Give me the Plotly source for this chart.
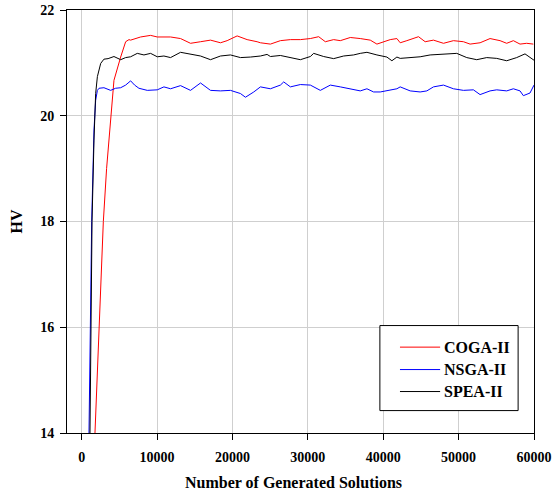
import plotly.graph_objects as go

# Hypervolume traces per algorithm (number of generated solutions vs HV)
coga_x = [1760, 2300, 2870, 3300, 3650, 4280, 5170, 5830, 6270, 6490, 7815, 9140, 10026,
          11788, 13113, 14437, 15762, 17086, 18411, 19294, 20619, 21943, 23268, 23710,
          25034, 26359, 27684, 29008, 30332, 31437, 32320, 33422, 34306, 35631, 36955,
          38280, 39163, 40046, 40929, 41812, 42250, 43133, 44680, 45563, 46666, 47991,
          49315, 50640, 51522, 52847, 54171, 55496, 56379, 57262, 58145, 59028, 59911]
coga_y = [14.0, 16.0, 18.0, 19.0, 19.55, 20.67, 21.11, 21.40, 21.44, 21.43, 21.49, 21.52, 21.49,
          21.49, 21.46, 21.37, 21.40, 21.43, 21.38, 21.42, 21.51, 21.44, 21.40, 21.38,
          21.355, 21.42, 21.44, 21.44, 21.46, 21.495, 21.40, 21.44, 21.42, 21.48, 21.46,
          21.43, 21.355, 21.40, 21.44, 21.46, 21.38, 21.42, 21.495, 21.40, 21.43, 21.37,
          21.42, 21.40, 21.355, 21.38, 21.46, 21.42, 21.37, 21.42, 21.355, 21.37, 21.355]

nsga_x = [967, 1150, 1325, 1630, 1850, 2080, 2300, 2950, 3840, 4500, 5170, 5830, 6490, 7020,
          7590, 8700, 10026, 10905, 11788, 13113, 14437, 15762, 17086, 18411, 19736, 21060,
          21722, 22826, 23710, 25034, 26359, 26800, 27684, 29008, 30332, 31657, 32982,
          34306, 35631, 36955, 37838, 38721, 39604, 40487, 41812, 42250, 43575, 44900,
          45783, 46666, 47991, 49315, 50640, 51964, 52847, 54171, 55054, 56379, 57262,
          58145, 58587, 59469, 60000]
nsga_y = [14.0, 16.0, 18.0, 19.73, 20.29, 20.48, 20.52, 20.53, 20.48, 20.52, 20.53, 20.58, 20.66, 20.58,
          20.52, 20.48, 20.49, 20.546, 20.51, 20.57, 20.48, 20.62, 20.48, 20.47, 20.48, 20.42,
          20.35, 20.45, 20.546, 20.51, 20.58, 20.64, 20.546, 20.59, 20.58, 20.48, 20.58,
          20.546, 20.51, 20.47, 20.51, 20.45, 20.45, 20.47, 20.51, 20.546, 20.47, 20.45,
          20.47, 20.546, 20.58, 20.51, 20.48, 20.49, 20.40, 20.47, 20.49, 20.47, 20.51,
          20.47, 20.38, 20.43, 20.58]

spea_x = [1100, 1190, 1370, 1630, 1850, 2080, 2520, 2950, 3500, 4280, 5170, 5830, 6490, 7373,
          8256, 9140, 10026, 10905, 11788, 13113, 14437, 15762, 17086, 18411, 19736, 21060,
          22385, 23710, 24592, 25034, 26359, 27684, 29008, 30332, 30774, 32098, 33422,
          34747, 36072, 36955, 37838, 39163, 40487, 41150, 41812, 42250, 43575, 44900,
          46224, 47991, 49757, 51081, 52405, 53730, 55054, 56379, 57704, 58807, 59469, 60000]
spea_y = [14.0, 16.0, 18.0, 19.54, 20.42, 20.74, 20.99, 21.07, 21.08, 21.12, 21.06, 21.10, 21.115, 21.18,
          21.15, 21.18, 21.115, 21.13, 21.10, 21.20, 21.17, 21.13, 21.06, 21.13, 21.15, 21.10,
          21.11, 21.13, 21.16, 21.12, 21.14, 21.10, 21.06, 21.12, 21.18, 21.12, 21.08,
          21.13, 21.15, 21.18, 21.20, 21.15, 21.11, 21.04, 21.11, 21.085, 21.10, 21.115,
          21.15, 21.17, 21.18, 21.10, 21.06, 21.10, 21.085, 21.04, 21.10, 21.17, 21.10, 21.05]

series_names = ["COGA-II", "NSGA-II", "SPEA-II"]
series_colors = ["#ff0000", "#0000ff", "#000000"]
x_ticks = [0, 10000, 20000, 30000, 40000, 50000, 60000]
y_ticks = [14, 16, 18, 20, 22]

serif = dict(family="Liberation Serif", color="black", weight="bold")

fig = go.Figure()
for name, color, xs, ys in zip(series_names, series_colors,
                                [coga_x, nsga_x, spea_x], [coga_y, nsga_y, spea_y]):
    fig.add_trace(go.Scatter(x=xs, y=ys, mode="lines", name=name, showlegend=False,
                             line=dict(color=color, width=1)))

# Boxed legend in the lower right of the plotting area
box_x0, box_x1, box_y0, box_y1 = 0.670, 0.966, 0.053, 0.254
row_y = [0.203, 0.150, 0.098]
fig.add_shape(type="rect", xref="paper", yref="paper", x0=box_x0, x1=box_x1, y0=box_y0, y1=box_y1,
              line=dict(color="black", width=1), fillcolor="white", layer="above")
for name, color, ry in zip(series_names, series_colors, row_y):
    fig.add_shape(type="line", xref="paper", yref="paper", x0=0.713, x1=0.799, y0=ry, y1=ry,
                  line=dict(color=color, width=1), layer="above")
    fig.add_annotation(x=0.803, y=ry, xref="paper", yref="paper", text=name, showarrow=False,
                       xanchor="left", yanchor="middle", font=dict(serif, size=16))

# x-axis title, set slightly left of the plot centre
fig.add_annotation(x=0.485, y=-0.118, xref="paper", yref="paper",
                   text="Number of Generated Solutions", showarrow=False,
                   xanchor="center", yanchor="middle", font=dict(serif, size=16))

axis_common = dict(showline=True, linecolor="black", linewidth=1, mirror=True,
                   ticks="outside", ticklen=6, tickwidth=1, tickcolor="black",
                   showgrid=True, gridcolor="#cfcfcf", gridwidth=1, zeroline=False,
                   automargin=False, tickfont=dict(serif, size=14))

fig.update_xaxes(range=[-1950, 60000], tickvals=x_ticks, ticktext=[str(v) for v in x_ticks],
                 ticklabelstandoff=5, **axis_common)
fig.update_yaxes(range=[14, 22], tickvals=y_ticks, ticktext=[str(v) for v in y_ticks],
                 ticklabelstandoff=3,
                 title=dict(text="HV", font=dict(serif, size=16), standoff=13),
                 **axis_common)

fig.update_layout(width=552, height=493, margin=dict(l=67, r=18, t=10, b=60),
                  paper_bgcolor="white", plot_bgcolor="white", showlegend=False)

fig.write_html("out.html")
